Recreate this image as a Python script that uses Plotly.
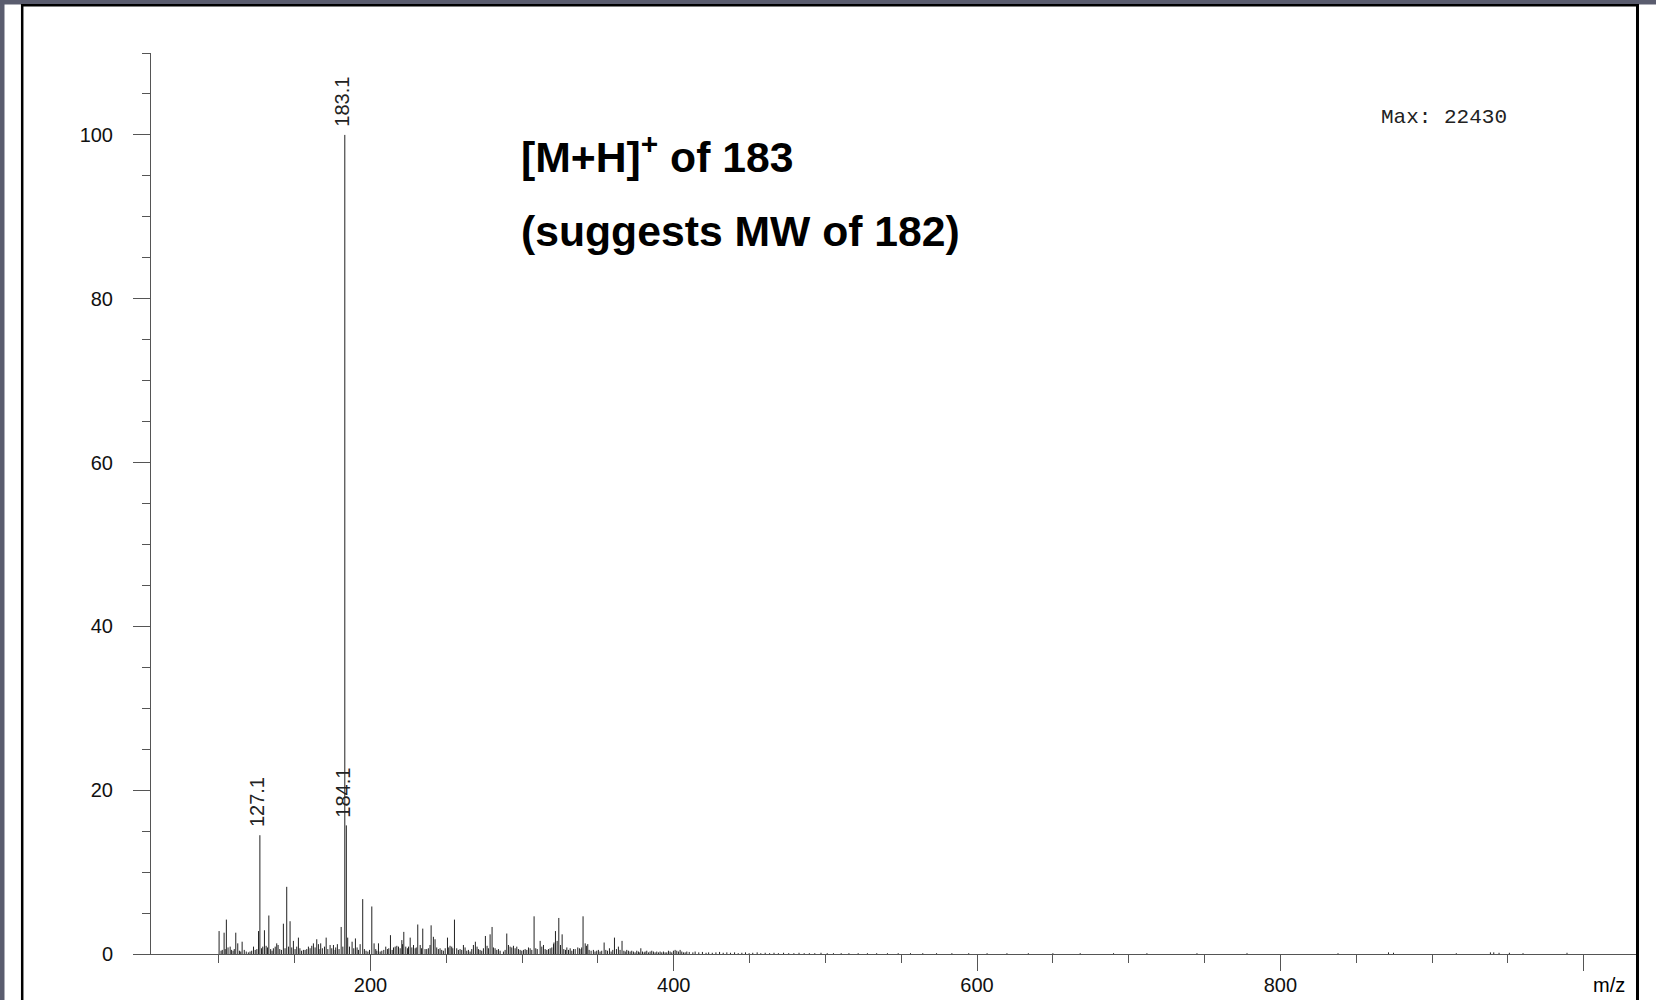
import plotly.graph_objects as go

# ---------------- data ----------------
peak_mz = [
    100.2, 101.5, 102.3, 103.5, 104.2, 105.0, 106.1, 107.5, 108.3, 109.4, 110.2, 111.2, 112.5,
    113.6, 114.5, 115.4, 116.8, 118.1, 119.5, 120.6, 121.7, 122.9, 124.0, 125.1, 126.2, 127.1,
    128.2, 129.0, 130.1, 131.2, 132.1, 133.0, 134.2, 135.1, 136.0, 137.2, 138.2, 139.1, 140.2,
    141.3, 142.6, 143.7, 144.8, 146.0, 147.0, 148.1, 149.2, 150.3, 151.4, 152.5, 153.5, 154.6,
    155.8, 156.9, 158.0, 159.1, 160.2, 161.3, 162.4, 163.5, 164.6, 165.7, 166.1, 167.2, 168.3,
    169.7, 170.8, 171.9, 173.4, 174.5, 175.6, 176.7, 177.1, 178.2, 179.3, 180.7, 181.8, 183.1,
    184.1, 185.0, 186.2, 187.9, 189.0, 190.1, 191.2, 192.1, 193.2, 194.9, 196.0, 197.1, 198.3,
    199.4, 200.9, 202.4, 203.5, 204.2, 205.3, 206.4, 207.5, 208.8, 210.1, 211.2, 212.1, 213.2,
    214.3, 215.2, 216.3, 217.4, 218.5, 219.6, 220.7, 221.1, 222.0, 223.3, 224.4, 225.1, 226.2,
    227.3, 228.4, 229.5, 230.2, 231.2, 232.8, 233.7, 234.5, 236.0, 237.1, 238.2, 239.3, 240.0,
    241.5, 242.6, 243.7, 244.8, 245.9, 247.0, 248.1, 249.3, 250.8, 251.6, 252.5, 253.6, 254.3,
    255.4, 256.9, 258.0, 259.1, 260.2, 261.3, 262.4, 263.5, 264.6, 265.7, 266.8, 267.9, 269.2,
    270.3, 271.2, 272.3, 273.4, 274.5, 275.8, 276.9, 277.8, 278.9, 280.2, 281.1, 282.2, 283.3,
    284.4, 285.5, 287.7, 288.8, 289.9, 291.0, 292.1, 293.2, 294.3, 295.4, 296.5, 297.6, 298.7,
    299.8, 300.9, 302.0, 303.1, 304.2, 305.3, 306.4, 307.9, 309.0, 310.0, 311.9, 313.0, 314.1,
    315.2, 316.3, 317.4, 318.5, 319.6, 320.7, 321.0, 322.0, 323.1, 324.2, 325.3, 326.4, 327.5,
    328.6, 329.5, 330.6, 331.7, 332.8, 333.9, 335.0, 336.7, 337.8, 338.9, 339.3, 340.2, 341.6,
    342.4, 343.3, 344.2, 345.5, 347.0, 348.1, 349.2, 350.3, 351.4, 352.5, 354.1, 355.2, 356.3,
    357.6, 358.7, 359.8, 360.9, 362.2, 363.5, 364.6, 365.9, 367.1, 368.0, 369.0, 370.1, 371.2,
    372.3, 373.4, 374.5, 375.6, 376.7, 377.2, 378.3, 379.4, 380.5, 381.1, 382.2, 383.3, 384.4,
    385.5, 386.6, 387.7, 388.8, 389.9, 391.0, 392.1, 393.2, 394.3, 395.4, 396.5, 397.6, 398.7,
    399.8, 400.9, 402.0, 403.1, 404.2, 405.3, 406.4, 407.5, 408.6, 410.2, 412.6, 414.1, 416.5,
    418.9, 421.3, 423.0, 425.4, 427.8, 430.2, 432.6, 435.0, 437.4, 440.1, 442.5, 444.9, 447.3,
    449.7, 452.1, 455.0, 457.4, 460.3, 463.2, 466.1, 469.0, 472.4, 475.8, 479.2, 482.6, 486.0,
    489.4, 493.0, 497.1, 501.2, 505.3, 510.4, 515.5, 521.6, 527.7, 533.8, 540.9, 548.0, 556.1,
    564.2, 573.3, 583.4, 594.5, 606.6, 619.7, 633.8, 650.0, 668.0, 690.0, 712.0, 745.0, 778.0,
    838.0, 871.3, 874.6, 916.0, 938.5, 940.7, 944.2, 951.0, 960.0, 989.0,
]
peak_int = [
    2.8, 0.4, 0.5, 2.6, 0.6, 4.2, 0.8, 0.9, 0.5, 0.4, 0.6, 2.6, 1.3,
    0.4, 0.3, 1.5, 0.5, 0.3, 0.2, 0.3, 0.4, 0.9, 0.5, 0.6, 2.8, 14.5,
    0.7, 0.9, 2.9, 1.0, 0.8, 4.7, 0.6, 0.4, 0.7, 0.9, 1.3, 1.1, 0.6,
    0.5, 3.7, 0.7, 8.2, 0.9, 4.0, 0.8, 1.6, 0.6, 0.9, 2.0, 0.7, 0.4,
    0.5, 0.5, 0.6, 0.9, 0.7, 1.0, 1.3, 0.8, 1.8, 1.2, 0.6, 1.3, 0.7,
    0.9, 2.0, 0.6, 1.1, 0.7, 1.1, 0.5, 0.8, 1.2, 0.6, 3.3, 0.9, 100.0,
    15.7, 2.0, 0.9, 1.5, 0.7, 1.9, 0.8, 0.5, 1.2, 6.7, 0.6, 0.4, 0.3,
    0.5, 5.8, 1.3, 0.6, 0.4, 1.3, 0.3, 0.4, 0.5, 0.9, 0.6, 0.7, 2.3,
    0.5, 0.8, 0.9, 1.0, 0.9, 0.7, 1.7, 1.2, 2.7, 0.9, 0.7, 0.9, 2.0,
    0.8, 1.1, 0.7, 0.8, 3.6, 1.1, 0.7, 3.1, 0.6, 0.6, 0.7, 1.1, 3.5,
    2.1, 1.8, 0.8, 0.6, 0.7, 0.5, 0.4, 0.7, 2.0, 0.8, 1.0, 0.9, 0.7,
    4.2, 0.7, 0.5, 0.6, 0.5, 1.1, 0.8, 0.4, 0.5, 0.3, 0.6, 1.1, 1.5,
    0.9, 0.6, 0.5, 0.4, 0.7, 2.2, 1.0, 0.7, 2.4, 3.3, 0.8, 0.7, 0.5,
    0.6, 0.4, 0.3, 0.5, 2.5, 1.1, 0.9, 0.8, 1.0, 0.7, 0.9, 0.6, 0.5,
    0.4, 0.5, 0.6, 0.5, 0.8, 0.7, 0.5, 4.6, 0.7, 0.6, 1.6, 0.9, 1.1,
    0.6, 0.5, 0.6, 0.7, 0.8, 1.2, 1.4, 2.8, 1.6, 4.4, 1.1, 2.4, 0.6,
    0.5, 0.8, 0.5, 0.7, 0.4, 0.6, 0.6, 0.8, 0.7, 0.6, 0.8, 4.6, 1.3,
    1.0, 1.2, 0.5, 0.4, 0.5, 0.3, 0.4, 0.5, 0.3, 0.4, 1.4, 0.5, 0.4,
    0.7, 0.3, 0.5, 2.0, 0.6, 0.9, 0.5, 1.6, 0.4, 0.3, 0.5, 0.4, 0.3,
    0.4, 0.3, 0.2, 0.4, 0.3, 0.2, 0.7, 0.3, 0.2, 0.3, 0.4, 0.2, 0.3,
    0.4, 0.3, 0.2, 0.3, 0.2, 0.3, 0.2, 0.3, 0.2, 0.2, 0.4, 0.3, 0.2,
    0.4, 0.5, 0.4, 0.3, 0.5, 0.3, 0.2, 0.2, 0.3, 0.25, 0.2, 0.3, 0.2,
    0.25, 0.15, 0.2, 0.15, 0.2, 0.25, 0.15, 0.2, 0.15, 0.2, 0.1, 0.15, 0.2,
    0.1, 0.15, 0.2, 0.1, 0.15, 0.1, 0.15, 0.1, 0.15, 0.1, 0.1, 0.15, 0.1,
    0.1, 0.1, 0.15, 0.1, 0.1, 0.1, 0.1, 0.1, 0.1, 0.1, 0.1, 0.1, 0.1,
    0.1, 0.1, 0.1, 0.1, 0.1, 0.1, 0.1, 0.1, 0.1, 0.1, 0.1, 0.1, 0.1,
    0.1, 0.2, 0.15, 0.1, 0.2, 0.2, 0.15, 0.15, 0.1, 0.15,
]

label_mz = [127.1, 183.1, 184.1]
label_int = [14.5, 100.0, 15.7]
label_text = ["127.1", "183.1", "184.1"]

y_tickvals = [0, 20, 40, 60, 80, 100]
x_tickvals = [200, 400, 600, 800, 1000]
x_ticktext = ["200", "400", "600", "800", " "]

title_line1 = "[M+H]<sup>+</sup> of 183"
title_line2 = "(suggests MW of 182)"
max_text = "Max: 22430"
x_label = "m/z"

# ---------------- layout geometry (pixels) ----------------
W, H = 1656, 1000
L, R, T, B = 151, 1636, 53, 954   # plot area edges
PW, PH = R - L, B - T


def px(xp):
    return (xp - L) / PW


def py(yp):
    return (B - yp) / PH


# build stick lines
xs, ys = [], []
for m, h in zip(peak_mz, peak_int):
    xs += [m, m, None]
    ys += [0, h, None]

fig = go.Figure()
fig.add_trace(go.Scatter(x=xs, y=ys, mode="lines",
                         line=dict(color="#222222", width=1),
                         hoverinfo="skip", showlegend=False))

FONT = "Liberation Sans, Arial, sans-serif"
axis_col = "#555555"

annotations = []
for m, h, t in zip(label_mz, label_int, label_text):
    annotations.append(dict(x=m, y=h, xref="x", yref="y", text=t, showarrow=False,
                            textangle=-90, xanchor="center", yanchor="bottom",
                            yshift=6, xshift=-3,
                            font=dict(family=FONT, size=20, color="#222222")))

annotations += [
    dict(x=px(519), y=py(154), xref="paper", yref="paper", text="<b>" + title_line1 + "</b>",
         showarrow=False, xanchor="left", yanchor="middle",
         font=dict(family=FONT, size=42.7, color="#000000")),
    dict(x=px(519), y=py(231), xref="paper", yref="paper", text="<b>" + title_line2 + "</b>",
         showarrow=False, xanchor="left", yanchor="middle",
         font=dict(family=FONT, size=42.7, color="#000000")),
    dict(x=px(1444), y=py(118), xref="paper", yref="paper", text=max_text,
         showarrow=False, xanchor="center", yanchor="middle",
         font=dict(family="Liberation Mono, Courier New, monospace", size=21, color="#222222")),
    dict(x=px(1609), y=py(985), xref="paper", yref="paper", text=x_label,
         showarrow=False, xanchor="center", yanchor="middle",
         font=dict(family=FONT, size=20, color="#000000")),
]

shapes = [
    # white page on a grey backdrop
    dict(type="rect", xref="paper", yref="paper", x0=px(4.5), x1=px(1660),
         y0=py(1010), y1=py(4.5), fillcolor="white", line=dict(width=0), layer="below"),
    # black page frame lines
    dict(type="line", xref="paper", yref="paper", x0=px(21), x1=px(1639),
         y0=py(5.2), y1=py(5.2), line=dict(color="black", width=2.5)),
    dict(type="line", xref="paper", yref="paper", x0=px(22.2), x1=px(22.2),
         y0=py(4), y1=py(1010), line=dict(color="black", width=2.5)),
    dict(type="line", xref="paper", yref="paper", x0=px(1637.5), x1=px(1637.5),
         y0=py(4), y1=py(1010), line=dict(color="black", width=3)),
]

# x scale: 200 at ~370.5 px, 1.5165 px per m/z unit
x0_val = 55.3
x1_val = 1034.5

fig.update_layout(
    width=W, height=H,
    margin=dict(l=L, r=W - R, t=T, b=H - B, pad=0, autoexpand=False),
    paper_bgcolor="#5a5c6e",
    plot_bgcolor="white",
    showlegend=False,
    hovermode=False,
    annotations=annotations,
    shapes=shapes,
    xaxis=dict(
        range=[x0_val, x1_val], showgrid=False, zeroline=False, automargin=False,
        showline=True, linecolor=axis_col, linewidth=1,
        tickmode="array", tickvals=x_tickvals, ticktext=x_ticktext,
        ticks="outside", ticklen=16, tickwidth=1, tickcolor=axis_col,
        ticklabelstandoff=-3,
        minor=dict(tickmode="linear", tick0=0, dtick=50, ticks="outside",
                   ticklen=8, tickwidth=1, tickcolor=axis_col, showgrid=False),
        tickfont=dict(family=FONT, size=20, color="#111111"),
    ),
    yaxis=dict(
        range=[0, 110], showgrid=False, zeroline=False, automargin=False,
        showline=True, linecolor=axis_col, linewidth=1,
        tickmode="array", tickvals=y_tickvals,
        ticks="outside", ticklen=17, tickwidth=1, tickcolor=axis_col,
        ticklabelstandoff=16,
        minor=dict(tickmode="linear", tick0=0, dtick=5, ticks="outside",
                   ticklen=8, tickwidth=1, tickcolor=axis_col, showgrid=False),
        tickfont=dict(family=FONT, size=20, color="#111111"),
    ),
)

fig.write_html("out.html")
